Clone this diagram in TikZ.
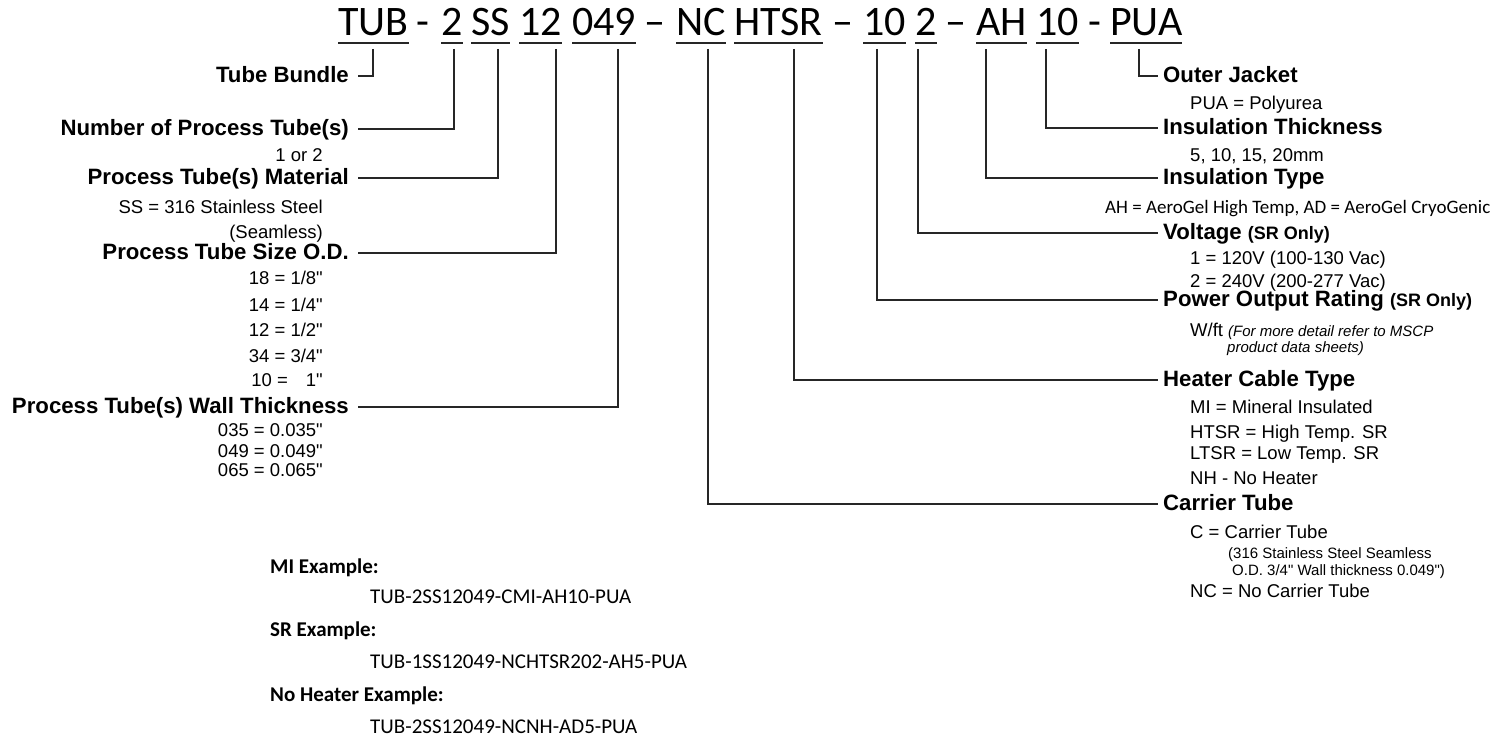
\documentclass[tikz,border=0pt]{standalone}
\usepackage{fontspec}
\setmainfont{Liberation Sans}[Ligatures=TeXOff]
\newfontfamily\calibrifont{Carlito}
\begin{document}
\begin{tikzpicture}[x=1bp,y=-1bp,
 conn/.style={draw=black!85,line width=1.5bp},
 uline/.style={draw=black!85,line width=2bp},
 tok/.style={font=\calibrifont\fontsize{42bp}{46bp}\selectfont,inner sep=0,anchor=base west},
 sepr/.style={font=\calibrifont\fontsize{42bp}{46bp}\selectfont,inner sep=0,anchor=base},
 lbl/.style={font=\bfseries\fontsize{22.2bp}{26bp}\selectfont,inner xsep=9bp,inner ysep=0,text height=12bp,text depth=0bp,anchor=east},
 rlbl/.style={font=\bfseries\fontsize{22.2bp}{26bp}\selectfont,inner xsep=5bp,inner ysep=0,text height=12bp,text depth=0bp,anchor=west},
 sub/.style={font=\fontsize{18.5bp}{22bp}\selectfont,inner sep=0,text height=13bp,text depth=0bp},
 subl/.style={sub,anchor=east},
 subr/.style={sub,anchor=west},
 smalltxt/.style={font=\fontsize{15bp}{17bp}\selectfont,inner sep=0,text height=11bp,text depth=0bp,anchor=west},
 ex/.style={font=\calibrifont\fontsize{21bp}{24bp}\selectfont,inner sep=0,text height=13bp,text depth=0bp,anchor=west},
]
\path[use as bounding box] (0,0) rectangle (1511,742);

% title tokens
\node[tok] (t1) at (338,35.5) {TUB};
\node[sepr] (s1) at (423,35.5) {-};
\node[tok] (t2) at (441,35.5) {2};
\node[tok] (t3) at (471,35.5) {SS};
\node[tok] (t4) at (519,35.5) {12};
\node[tok] (t5) at (572,35.5) {049};
\node[sepr] (s2) at (655,35.5) {–};
\node[tok] (t6) at (676,35.5) {NC};
\node[tok] (t7) at (734,35.5) {HTSR};
\node[sepr] (s3) at (843,35.5) {–};
\node[tok] (t8) at (863,35.5) {10};
\node[tok] (t9) at (915,35.5) {2};
\node[sepr] (s4) at (956,35.5) {–};
\node[tok] (t10) at (976,35.5) {AH};
\node[tok] (t11) at (1036,35.5) {10};
\node[sepr] (s5) at (1095,35.5) {-};
\node[tok] (t12) at (1110,35.5) {PUA};
\foreach \t in {t1,t2,t3,t4,t5,t6,t7,t8,t9,t10,t11,t12}
  \draw[uline] ([yshift=-7.5bp]\t.base west) -- ([yshift=-7.5bp]\t.base east);

% tick tops
\coordinate (k-tub) at (373,49);
\coordinate (k-two) at (454,49);
\coordinate (k-ss) at (498,49);
\coordinate (k-od) at (556,49);
\coordinate (k-wall) at (618,49);
\coordinate (k-nc) at (708,49);
\coordinate (k-htsr) at (794,49);
\coordinate (k-pw) at (877,49);
\coordinate (k-volt) at (918,49);
\coordinate (k-ah) at (986,49);
\coordinate (k-ith) at (1046,49);
\coordinate (k-pua) at (1139,49);

% left labels
\node[lbl] (l-tub) at (358,76) {Tube Bundle};
\node[lbl] (l-num) at (358,129) {Number of Process Tube(s)};
\node[lbl] (l-mat) at (358,178) {Process Tube(s) Material};
\node[lbl] (l-od) at (358,253) {Process Tube Size O.D.};
\node[lbl] (l-wall) at (358,407) {Process Tube(s) Wall Thickness};

\node[subl] (ls1) at (323,155) {1 or 2};
\node[subl] (ls2) at (323,207) {SS = 316 Stainless Steel};
\node[subl] (ls3) at (323,232) {(Seamless)};
\node[subl] (ls4) at (323,278) {18 = 1/8"};
\node[subl] (ls5) at (323,305) {14 = 1/4"};
\node[subl] (ls6) at (323,330) {12 = 1/2"};
\node[subl] (ls7) at (323,356) {34 = 3/4"};
\node[subl] (ls8) at (323,380) {10 =\hspace{18bp}1"};
\node[subl] (ls9) at (323,430) {035 = 0.035"};
\node[subl] (ls10) at (323,451) {049 = 0.049"};
\node[subl] (ls11) at (323,470) {065 = 0.065"};

% right labels
\node[rlbl] (r-oj) at (1158,76) {Outer Jacket};
\node[rlbl] (r-ith) at (1158,128) {Insulation Thickness};
\node[rlbl] (r-ity) at (1158,178) {Insulation Type};
\node[rlbl] (r-volt) at (1158,233) {Voltage {\fontsize{18bp}{20bp}\selectfont (SR Only)}};
\node[rlbl] (r-pw) at (1158,300) {Power Output Rating {\fontsize{18bp}{20bp}\selectfont (SR Only)}};
\node[rlbl] (r-hc) at (1158,380) {Heater Cable Type};
\node[rlbl] (r-ct) at (1158,504) {Carrier Tube};

\node[subr] (rs1) at (1190,103) {PUA = Polyurea};
\node[subr] (rs2) at (1190,155) {5, 10, 15, 20mm};
\node[ex,font=\calibrifont\fontsize{19bp}{22bp}\selectfont] (rs3) at (1105,207) {AH = AeroGel High Temp, AD = AeroGel CryoGenic};
\node[subr] (rs4) at (1190,258) {1 = 120V (100-130 Vac)};
\node[subr] (rs5) at (1190,281) {2 = 240V (200-277 Vac)};
\node[subr] (rs6) at (1190,330) {W/ft {\itshape\fontsize{15bp}{17bp}\selectfont (For more detail refer to MSCP}};
\node[smalltxt,font=\itshape\fontsize{15bp}{17bp}\selectfont] (rs7) at (1227,347) {product data sheets)};
\node[subr] (rs8) at (1190,407) {MI = Mineral Insulated};
\node[subr] (rs9) at (1190,432) {HTSR = High Temp. SR};
\node[subr] (rs10) at (1190,453) {LTSR = Low Temp. SR};
\node[subr] (rs11) at (1190,478) {NH - No Heater};
\node[subr] (rs12) at (1190,532) {C = Carrier Tube};
\node[smalltxt] (rs13) at (1228,553) {(316 Stainless Steel Seamless};
\node[smalltxt] (rs14) at (1232,570) {O.D. 3/4" Wall thickness 0.049")};
\node[subr] (rs15) at (1190,591) {NC = No Carrier Tube};

% connectors
\draw[conn] (k-tub) |- (l-tub.east);
\draw[conn] (k-two) |- (l-num.east);
\draw[conn] (k-ss) |- (l-mat.east);
\draw[conn] (k-od) |- (l-od.east);
\draw[conn] (k-wall) |- (l-wall.east);
\draw[conn] (k-pua) |- (r-oj.west);
\draw[conn] (k-ith) |- (r-ith.west);
\draw[conn] (k-ah) |- (r-ity.west);
\draw[conn] (k-volt) |- (r-volt.west);
\draw[conn] (k-pw) |- (r-pw.west);
\draw[conn] (k-htsr) |- (r-hc.west);
\draw[conn] (k-nc) |- (r-ct.west);

% examples
\node[ex,font=\calibrifont\bfseries\fontsize{21bp}{24bp}\selectfont] (e1) at (270,567) {MI Example:};
\node[ex] (e2) at (370,597) {TUB-2SS12049-CMI-AH10-PUA};
\node[ex,font=\calibrifont\bfseries\fontsize{21bp}{24bp}\selectfont] (e3) at (270,630) {SR Example:};
\node[ex] (e4) at (370,662) {TUB-1SS12049-NCHTSR202-AH5-PUA};
\node[ex,font=\calibrifont\bfseries\fontsize{21bp}{24bp}\selectfont] (e5) at (270,695) {No Heater Example:};
\node[ex] (e6) at (370,727) {TUB-2SS12049-NCNH-AD5-PUA};
\end{tikzpicture}
\end{document}
